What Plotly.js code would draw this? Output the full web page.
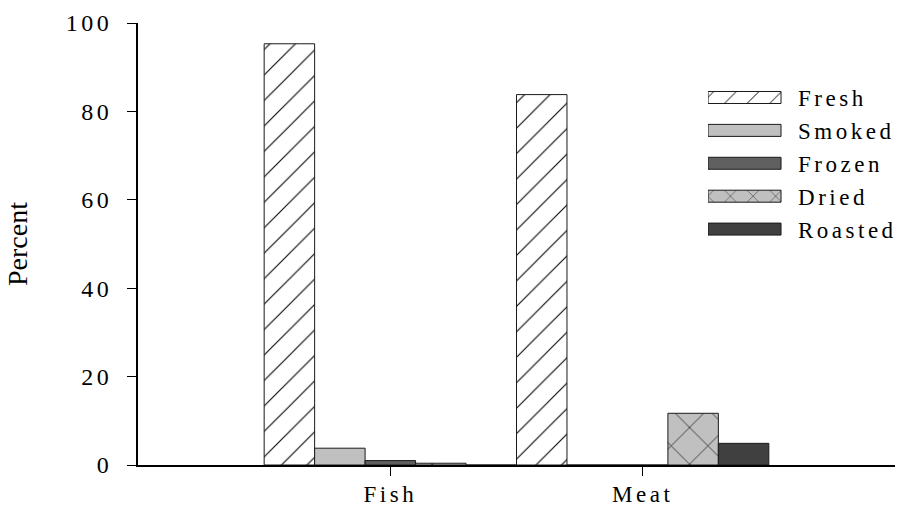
<!DOCTYPE html>
<html>
<head>
<meta charset="utf-8">
<script src="https://cdn.plot.ly/plotly-3.0.1.min.js"></script>
<style>
  html, body { margin: 0; padding: 0; background: #fff; }
  #chart { width: 903px; height: 511px; }
  .xtick text, .ytick text, .legendtext { letter-spacing: 3.5px; }
</style>
</head>
<body>
<div id="chart"></div>
<script>
// ---- data ----
const categories = ['Fish', 'Meat'];
const seriesNames = ['Fresh', 'Smoked', 'Frozen', 'Dried', 'Roasted'];
const fresh   = [95.3, 83.8];
const smoked  = [3.8, 0];
const frozen  = [1.0, 0];
const dried   = [0.4, 11.7];
const roasted = [0, 4.9];
const yTicks  = [0, 20, 40, 60, 80, 100];

const values = [fresh, smoked, frozen, dried, roasted];
const styles = [
  { color: '#ffffff', pattern: { shape: '/', size: 18, solidity: 0.06, fgcolor: '#000000', bgcolor: '#ffffff', fillmode: 'replace' } },
  { color: '#c0c0c0' },
  { color: '#606060' },
  { color: '#c0c0c0', pattern: { shape: 'x', size: 26, solidity: 0.05, fgcolor: '#000000', bgcolor: '#c0c0c0', fillmode: 'replace' } },
  { color: '#404040' }
];

const traces = seriesNames.map((name, i) => ({
  type: 'bar',
  name: name,
  x: categories,
  y: values[i],
  marker: Object.assign({ line: { color: '#1a1a1a', width: 1 } }, styles[i]),
  hoverinfo: 'x+y+name'
}));

const FONT = 'Liberation Serif, Times New Roman, serif';

const layout = {
  width: 903,
  height: 511,
  margin: { l: 138, r: 8, t: 23, b: 46, autoexpand: false },
  paper_bgcolor: '#ffffff',
  plot_bgcolor: '#ffffff',
  font: { family: FONT, size: 24, color: '#000000' },
  barmode: 'group',
  bargap: 0,
  bargroupgap: 0,
  showlegend: true,
  legend: {
    x: 0.753, y: 0.88, xanchor: 'left', yanchor: 'top',
    bgcolor: 'rgba(0,0,0,0)', borderwidth: 0,
    itemwidth: 80,
    traceorder: 'normal',
    font: { size: 23, family: FONT }
  },
  xaxis: {
    type: 'category',
    range: [-1, 2],
    showline: true, linecolor: '#000000', linewidth: 2,
    ticks: 'outside', ticklen: 9, tickwidth: 1, tickcolor: '#000000',
    ticklabelstandoff: -2,
    showgrid: false, zeroline: false,
    tickfont: { size: 23, family: FONT }
  },
  yaxis: {
    range: [0, 100],
    tickvals: yTicks,
    ticktext: yTicks.map(String),
    showline: true, linecolor: '#000000', linewidth: 2,
    ticks: 'outside', ticklen: 9, tickwidth: 1, tickcolor: '#000000',
    ticklabelstandoff: 10,
    showgrid: false, zeroline: false,
    tickfont: { size: 24, family: FONT },
    title: { text: 'Percent', font: { size: 28, family: FONT }, standoff: 30 }
  }
};

function widenLegendSymbols() {
  var barFills = {};
  document.querySelectorAll('.barlayer path').forEach(function (p) {
    var f = p.style.fill || p.getAttribute('fill');
    if (f) barFills[f] = true;
  });
  document.querySelectorAll('.legend g.traces').forEach(function (tr) {
    var txt = tr.querySelector('text.legendtext');
    var paths = tr.querySelectorAll('.legendpoints path');
    if (!txt || !paths.length) return;
    var tl = txt.getBoundingClientRect().left;
    paths.forEach(function (p) {
      if (p.getAttribute('data-wide')) return;
      var r = p.getBoundingClientRect();
      var c = (r.left + r.right) / 2;
      var a = (tl - 90) - c, b = (tl - 17) - c;
      p.setAttribute('d', 'M' + a + ',6H' + b + 'V-6H' + a + 'Z');
      p.setAttribute('data-wide', '1');
      // enlarge the legend's own hatch tile so it reads like the bars
      var f = p.style.fill || p.getAttribute('fill') || '';
      var m = /url\(["']?#([^"')]+)["']?\)/.exec(f);
      if (m && !barFills[f]) {
        var pat = document.getElementById(m[1]);
        if (pat) pat.setAttribute('patternTransform', 'scale(1.6)');
      }
    });
  });
}

Plotly.newPlot('chart', traces, layout, { displayModeBar: false, staticPlot: true }).then(function (gd) {
  widenLegendSymbols();
  gd.on('plotly_afterplot', widenLegendSymbols);
  setTimeout(widenLegendSymbols, 50);
  setTimeout(widenLegendSymbols, 300);
});
</script>
</body>
</html>
